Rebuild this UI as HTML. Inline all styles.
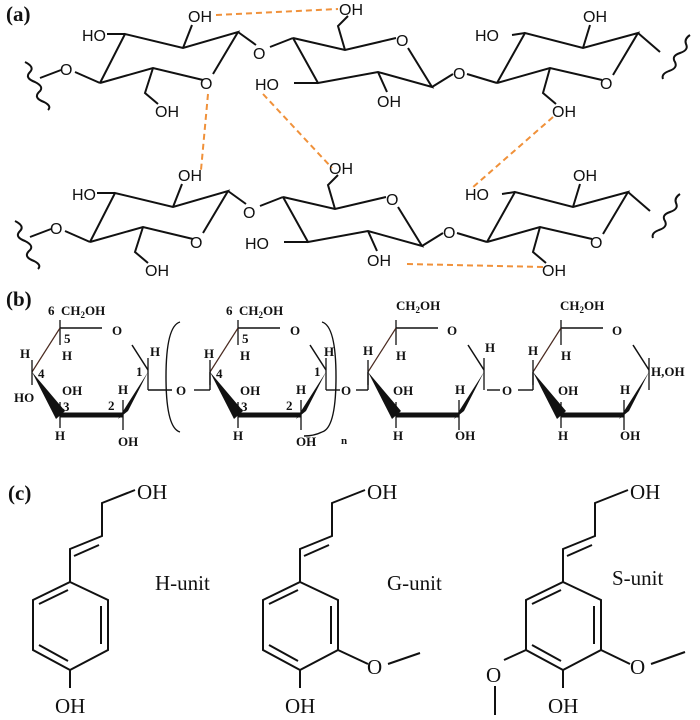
<!DOCTYPE html>
<html><head><meta charset="utf-8"><style>
html,body{margin:0;padding:0;background:#fff;}
svg{display:block}
.a{font-family:"Liberation Sans",sans-serif;font-size:16px;fill:#111}
.b{font-family:"Liberation Serif",serif;font-weight:bold;font-size:13px;fill:#111}
.c{font-family:"Liberation Serif",serif;font-size:21px;fill:#111}
.lab{font-family:"Liberation Serif",serif;font-weight:bold;font-size:21px;fill:#111}
</style></head><body>
<svg width="700" height="720" viewBox="0 0 700 720" xmlns="http://www.w3.org/2000/svg">
<defs>
<g id="chain" stroke="#111" stroke-width="2" fill="none">
  <path d="M25,62 q10,5 5,10 q-6,6 5,10 q10,5 4,10 q-6,6 5,10 q8,4 4,8"/>
  <line x1="40" y1="78" x2="61" y2="70"/>
  <line x1="75" y1="72" x2="100" y2="83"/>
  <path d="M100,83 L125,34 L183,48 L238,32 L213,74 M203,80 L153,68 L100,83"/>
  <line x1="107" y1="34" x2="125" y2="34"/>
  <line x1="183" y1="48" x2="192" y2="25"/>
  <path d="M153,68 L145,93 L158,104"/>
  <line x1="238" y1="32" x2="256" y2="45"/>
  <line x1="270" y1="47" x2="293" y2="38"/>
  <path d="M293,38 L318,83 L378,72 L432,87 L408,48 M396,38 L345,50 L293,38"/>
  <line x1="294" y1="83" x2="318" y2="83"/>
  <line x1="378" y1="72" x2="387" y2="92"/>
  <path d="M345,50 L338,26 L348,16"/>
  <line x1="432" y1="87" x2="453" y2="74"/>
  <line x1="467" y1="74" x2="497" y2="83"/>
  <path d="M497,83 L525,33 L583,48 L638,33 L613,75 M602,80 L550,68 L497,83"/>
  <line x1="512" y1="35" x2="525" y2="33"/>
  <line x1="583" y1="48" x2="590" y2="25"/>
  <path d="M550,68 L543,93 L556,104"/>
  <line x1="638" y1="33" x2="660" y2="52"/>
  <path d="M690,35 q-6,4 -4,9 q3,6 -6,9 q-9,3 -5,9 q3,6 -6,9 q-8,3 -6,8"/>
</g>
<g id="chaintxt" class="a">
  <text x="60" y="75">O</text>
  <text x="82" y="41">HO</text>
  <text x="188" y="22">OH</text>
  <text x="200" y="89">O</text>
  <text x="155" y="117">OH</text>
  <text x="253" y="59">O</text>
  <text x="255" y="90">HO</text>
  <text x="396" y="46">O</text>
  <text x="377" y="107">OH</text>
  <text x="339" y="15">OH</text>
  <text x="453" y="79">O</text>
  <text x="475" y="41">HO</text>
  <text x="583" y="22">OH</text>
  <text x="600" y="89">O</text>
  <text x="552" y="117">OH</text>
</g>
<g id="glu" stroke="#111" fill="none">
  <line x1="60" y1="320" x2="60" y2="345" stroke-width="1.3"/>
  <line x1="60" y1="328" x2="102" y2="328" stroke-width="1.5"/>
  <line x1="60" y1="328" x2="32" y2="372" stroke-width="1.2" stroke="#4a2a20"/>
  <line x1="132" y1="345" x2="148" y2="370" stroke-width="1.5"/>
  <line x1="148" y1="358" x2="148" y2="390" stroke-width="1.3"/>
  <polygon points="32,372 56,419 65,411" fill="#111" stroke="none"/>
  <line x1="60" y1="415" x2="123" y2="415" stroke-width="5"/>
  <polygon points="118,419 128,411 148,372" fill="#111" stroke="none"/>
  <line x1="32" y1="360" x2="32" y2="385" stroke-width="1.3"/>
  <line x1="60" y1="402" x2="60" y2="428" stroke-width="1.3"/>
  <line x1="123" y1="400" x2="123" y2="430" stroke-width="1.3"/>
</g>
<g id="benz" stroke="#111" stroke-width="2" fill="none">
  <path d="M70,582 L108,600 L108,650 L70,670 L33,650 L33,600 Z"/>
  <line x1="39" y1="604" x2="68" y2="590"/>
  <line x1="101" y1="606" x2="101" y2="644"/>
  <line x1="39" y1="645" x2="68" y2="661"/>
  <path d="M70,582 L70,549 L102,536 L102,503 L135,490"/>
  <line x1="74" y1="556" x2="99" y2="545"/>
  <line x1="70" y1="670" x2="70" y2="688"/>
</g>
</defs>

<text class="lab" x="6" y="21">(a)</text>
<use href="#chain"/>
<use href="#chaintxt"/>
<g transform="translate(-10,159)"><use href="#chain"/><use href="#chaintxt"/></g>
<g stroke="#f0913a" stroke-width="2" stroke-dasharray="6,4" fill="none">
  <line x1="216" y1="15" x2="338" y2="9"/>
  <line x1="208" y1="94" x2="201" y2="170"/>
  <line x1="263" y1="94" x2="332" y2="168"/>
  <line x1="553" y1="117" x2="472" y2="188"/>
  <line x1="407" y1="264" x2="543" y2="267"/>
</g>

<text class="lab" x="6" y="306">(b)</text>
<use href="#glu"/>
<use href="#glu" transform="translate(178,0)"/>
<use href="#glu" transform="translate(336,0)"/>
<use href="#glu" transform="translate(501,0)"/>
<g stroke="#111" stroke-width="1.4" fill="none">
  <line x1="148" y1="390" x2="172" y2="390"/>
  <line x1="194" y1="390" x2="210" y2="390"/>
  <line x1="210" y1="390" x2="210" y2="372"/>
  <path d="M180,322 q-14,4 -14,55 q0,51 14,55"/>
  <path d="M322,322 q14,4 14,55 q0,51 -14,55"/>
  <line x1="326" y1="390" x2="340" y2="390"/>
  <line x1="356" y1="390" x2="368" y2="390"/>
  <line x1="368" y1="390" x2="368" y2="372"/>
  <line x1="487" y1="390" x2="500" y2="390"/>
  <line x1="518" y1="390" x2="533" y2="390"/>
  <line x1="533" y1="390" x2="533" y2="372"/>
  <path d="M304,436 q10,0 18,-4"/>
</g>
<g class="b">
  <text x="48" y="315">6</text><text x="61" y="315">CH<tspan font-size="9" dy="3">2</tspan><tspan dy="-3">OH</tspan></text>
  <text x="64" y="343">5</text><text x="62" y="360">H</text>
  <text x="112" y="335">O</text><text x="150" y="356">H</text><text x="136" y="376">1</text>
  <text x="20" y="358">H</text><text x="38" y="378">4</text><text x="14" y="402">HO</text>
  <text x="62" y="395">OH</text><text x="63" y="411">3</text><text x="55" y="440">H</text>
  <text x="108" y="410">2</text><text x="118" y="394">H</text><text x="118" y="446">OH</text>
  <text x="176" y="395">O</text>
  <text x="226" y="315">6</text><text x="239" y="315">CH<tspan font-size="9" dy="3">2</tspan><tspan dy="-3">OH</tspan></text>
  <text x="242" y="343">5</text><text x="240" y="360">H</text>
  <text x="290" y="335">O</text><text x="324" y="356">H</text><text x="314" y="376">1</text>
  <text x="204" y="358">H</text><text x="216" y="378">4</text>
  <text x="240" y="395">OH</text><text x="241" y="411">3</text><text x="233" y="440">H</text>
  <text x="286" y="410">2</text><text x="296" y="394">H</text><text x="296" y="446">OH</text>
  <text x="341" y="444" font-size="11">n</text>
  <text x="341" y="395">O</text>
  <text x="396" y="310">CH<tspan font-size="9" dy="3">2</tspan><tspan dy="-3">OH</tspan></text>
  <text x="396" y="360">H</text><text x="447" y="335">O</text>
  <text x="485" y="352">H</text><text x="363" y="355">H</text>
  <text x="393" y="395">OH</text><text x="393" y="440">H</text>
  <text x="455" y="394">H</text><text x="455" y="440">OH</text>
  <text x="502" y="395">O</text>
  <text x="560" y="310">CH<tspan font-size="9" dy="3">2</tspan><tspan dy="-3">OH</tspan></text>
  <text x="561" y="360">H</text><text x="612" y="335">O</text>
  <text x="528" y="355">H</text>
  <text x="558" y="395">OH</text><text x="558" y="440">H</text>
  <text x="620" y="394">H</text><text x="620" y="440">OH</text>
  <text x="651" y="376">H,OH</text>
</g>

<text class="lab" x="8" y="500">(c)</text>
<use href="#benz"/>
<use href="#benz" transform="translate(230,0)"/>
<use href="#benz" transform="translate(493,0)"/>
<g stroke="#111" stroke-width="2" fill="none">
  <line x1="338" y1="650" x2="368" y2="664"/>
  <line x1="388" y1="664" x2="420" y2="653"/>
  <line x1="601" y1="650" x2="630" y2="664"/>
  <line x1="651" y1="664" x2="685" y2="652"/>
  <line x1="526" y1="650" x2="504" y2="660"/>
  <line x1="495" y1="686" x2="495" y2="715"/>
</g>
<g class="c">
  <text x="137" y="499">OH</text><text x="55" y="713">OH</text>
  <text x="155" y="590">H-unit</text>
  <text x="367" y="499">OH</text><text x="285" y="713">OH</text>
  <text x="387" y="590">G-unit</text><text x="367" y="674">O</text>
  <text x="630" y="499">OH</text><text x="548" y="713">OH</text>
  <text x="612" y="585">S-unit</text><text x="630" y="674">O</text>
  <text x="486" y="682">O</text>
</g>
</svg>
</body></html>
